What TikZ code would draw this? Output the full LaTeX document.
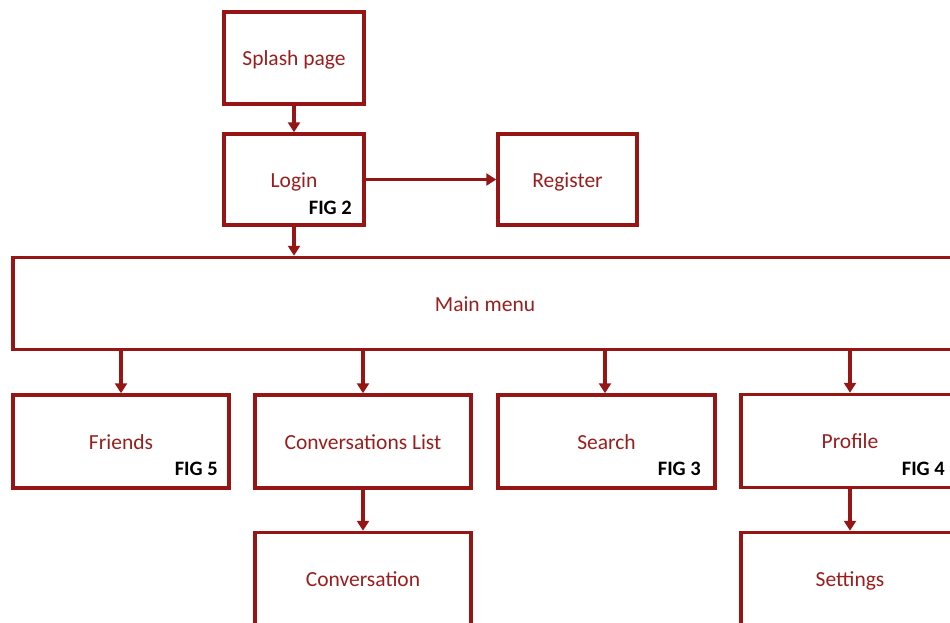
\documentclass[tikz,border=0pt]{standalone}
\usepackage{fontspec}
\setmainfont{Carlito}
\usetikzlibrary{arrows.meta}
\definecolor{boxred}{RGB}{150,22,22}
\definecolor{txtred}{RGB}{155,30,30}
\tikzset{
  box/.style={draw=boxred, line width=3.5pt, fill=white, rectangle, inner sep=0pt,
              text height=19pt, text depth=3.5pt,
              text=txtred, font=\fontsize{21.5pt}{24pt}\selectfont},
  figlbl/.style={inner sep=0pt, anchor=base east, text=black,
              font=\fontsize{20.5pt}{23pt}\selectfont\bfseries},
  arr/.style={draw=boxred, line width=3.2pt,
              -{Triangle[width=12pt,length=10pt]}}
}
\begin{document}
\begin{tikzpicture}[x=1pt,y=-1pt]
\useasboundingbox (0,0) rectangle (950,622);
\clip (0,0) rectangle (950,622);
% top
\node[box, minimum width=140pt, minimum height=92pt] (splash) at (294,58) {Splash page};
\node[box, minimum width=140pt, minimum height=91pt] (login) at (294,179.5) {Login};
\node[box, minimum width=139pt, minimum height=91pt] (register) at (567.5,179.5) {Register};
\node[box, minimum width=944pt, minimum height=92pt] (main) at (485,303.5) {Main menu};
% second row
\node[box, minimum width=216pt, minimum height=93pt] (friends) at (121,441.5) {Friends};
\node[box, minimum width=216pt, minimum height=93pt] (convlist) at (363,441.5) {Conversations List};
\node[box, minimum width=217pt, minimum height=93pt] (search) at (606.5,441.5) {Search};
\node[box, minimum width=218pt, minimum height=93pt] (profile) at (850,441) {Profile};
% third row
\node[box, minimum width=216pt, minimum height=93pt] (conv) at (363,579) {Conversation};
\node[box, minimum width=218pt, minimum height=93pt] (settings) at (850,579) {Settings};
% FIG labels
\node[figlbl] (fig2) at (352,214) {FIG 2};
\node[figlbl] (fig5) at (218,475) {FIG 5};
\node[figlbl] (fig3) at (701,475) {FIG 3};
\node[figlbl] (fig4) at (945,475) {FIG 4};
% connectors
\draw[arr] (splash) -- (login);
\draw[arr] (login) -- (register);
\draw[arr] (login.south) -- (login.south |- main.north);
\draw[arr] (friends.north |- main.south) -- (friends.north);
\draw[arr] (convlist.north |- main.south) -- (convlist.north);
\draw[arr] ([xshift=-1.5pt]search.north |- main.south) -- ([xshift=-1.5pt]search.north);
\draw[arr] (profile.north |- main.south) -- (profile.north);
\draw[arr] (convlist) -- (conv);
\draw[arr] (profile) -- (settings);
\end{tikzpicture}
\end{document}
